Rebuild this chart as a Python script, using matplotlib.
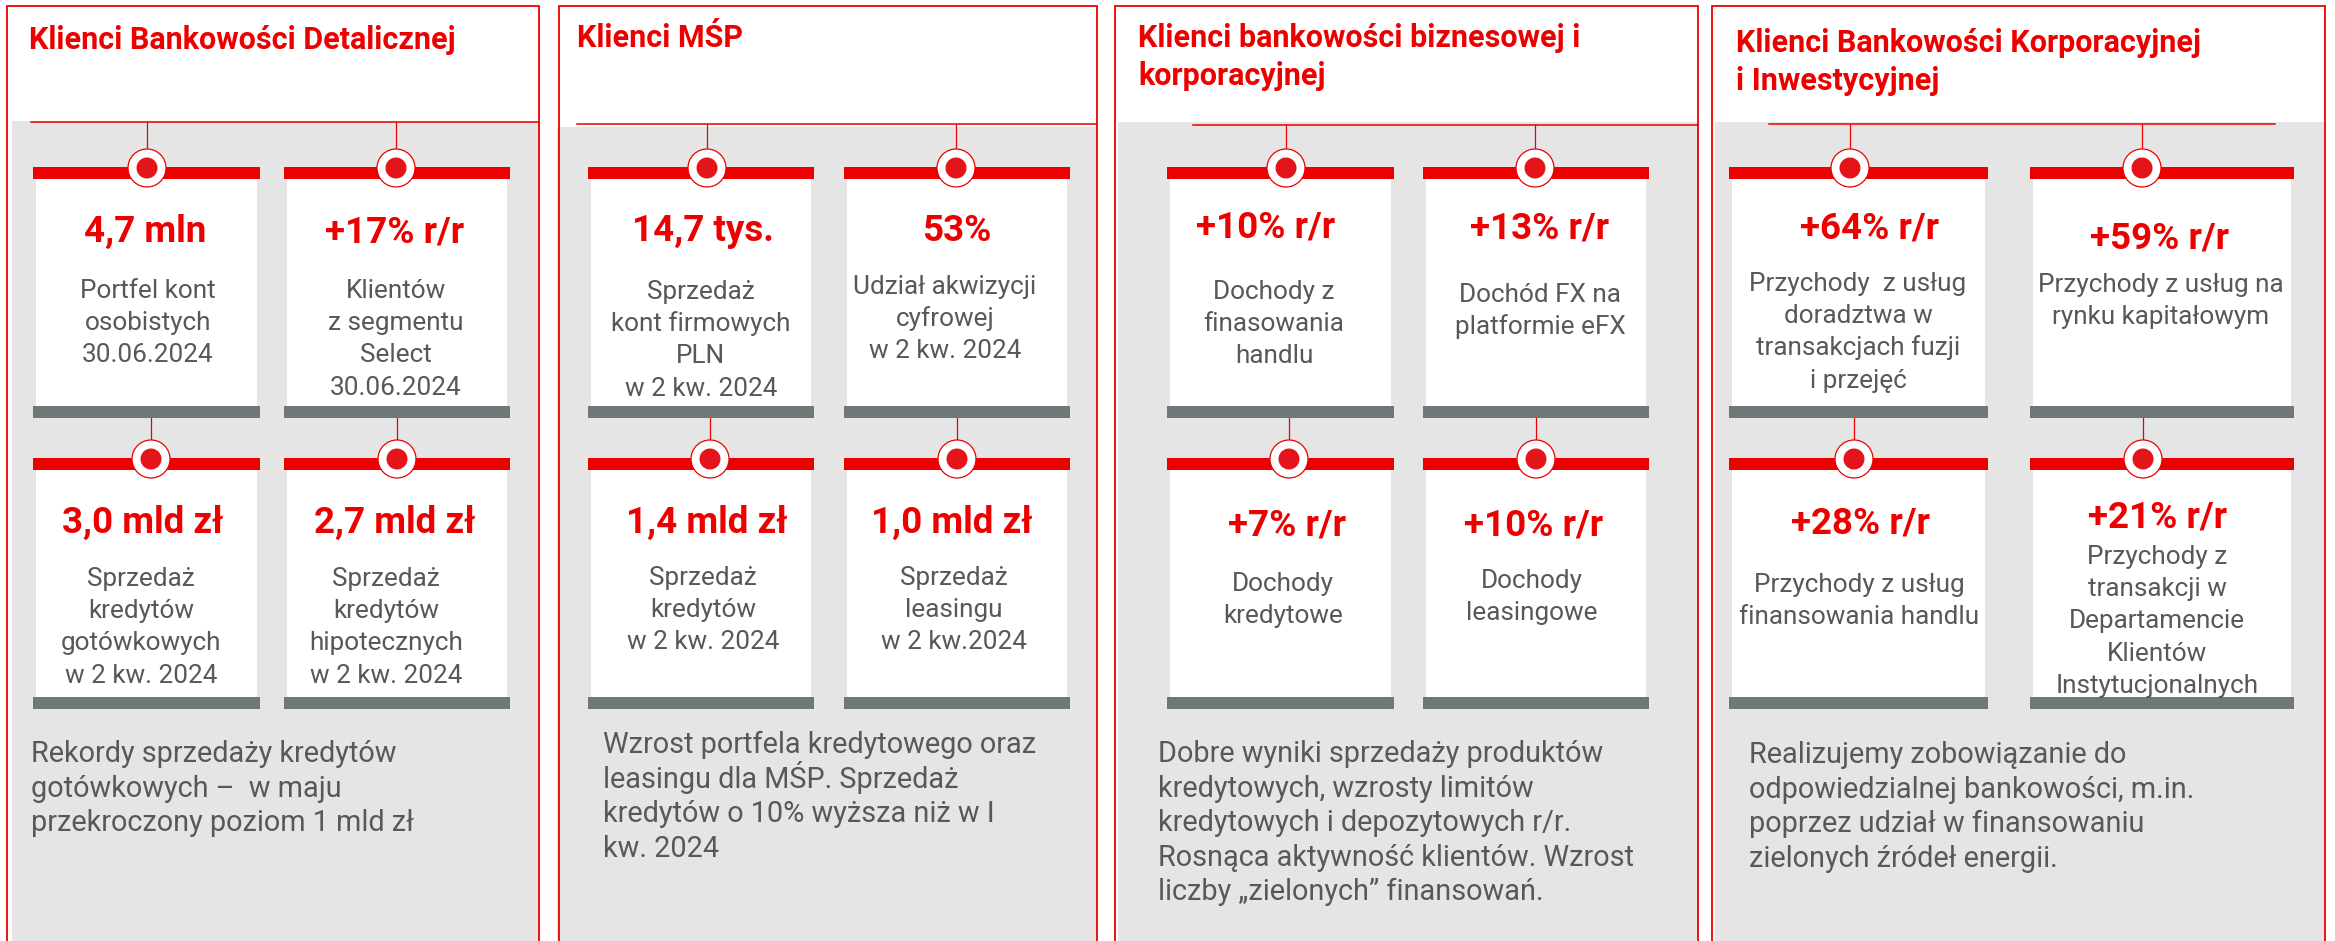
import matplotlib
matplotlib.use("Agg")
import matplotlib.pyplot as plt
from matplotlib.patches import Rectangle, Circle

plt.rcParams["font.family"] = ["Roboto", "DejaVu Sans"]

# ---- content -------------------------------------------------------------
titles = [
    ["Klienci Bankowości Detalicznej"],
    ["Klienci MŚP"],
    ["Klienci bankowości biznesowej i", "korporacyjnej"],
    ["Klienci Bankowości Korporacyjnej", "i Inwestycyjnej"],
]

# order in each panel: top-left, top-right, bottom-left, bottom-right
values = [
    ["4,7 mln", "+17% r/r", "3,0 mld zł", "2,7 mld zł"],
    ["14,7 tys.", "53%", "1,4 mld zł", "1,0 mld zł"],
    ["+10% r/r", "+13% r/r", "+7% r/r", "+10% r/r"],
    ["+64% r/r", "+59% r/r", "+28% r/r", "+21% r/r"],
]

descriptions = [
    [
        ["Portfel kont", "osobistych", "30.06.2024"],
        ["Klientów", "z segmentu", "Select", "30.06.2024"],
        ["Sprzedaż", "kredytów", "gotówkowych", "w 2 kw. 2024"],
        ["Sprzedaż", "kredytów", "hipotecznych", "w 2 kw. 2024"],
    ],
    [
        ["Sprzedaż", "kont firmowych", "PLN", "w 2 kw. 2024"],
        ["Udział akwizycji", "cyfrowej", "w 2 kw. 2024"],
        ["Sprzedaż", "kredytów", "w 2 kw. 2024"],
        ["Sprzedaż", "leasingu", "w 2 kw.2024"],
    ],
    [
        ["Dochody z", "finasowania", "handlu"],
        ["Dochód FX na", "platformie eFX"],
        ["Dochody", "kredytowe"],
        ["Dochody", "leasingowe"],
    ],
    [
        ["Przychody  z usług", "doradztwa w", "transakcjach fuzji", "i przejęć"],
        ["Przychody z usług na", "rynku kapitałowym"],
        ["Przychody z usług", "finansowania handlu"],
        ["Przychody z", "transakcji w", "Departamencie", "Klientów", "Instytucjonalnych"],
    ],
]

notes = [
    ["Rekordy sprzedaży kredytów", "gotówkowych –  w maju", "przekroczony poziom 1 mld zł"],
    ["Wzrost portfela kredytowego oraz", "leasingu dla MŚP. Sprzedaż",
     "kredytów o 10% wyższa niż w I", "kw. 2024"],
    ["Dobre wyniki sprzedaży produktów", "kredytowych, wzrosty limitów",
     "kredytowych i depozytowych r/r.", "Rosnąca aktywność klientów. Wzrost",
     "liczby „zielonych” finansowań."],
    ["Realizujemy zobowiązanie do", "odpowiedzialnej bankowości, m.in.",
     "poprzez udział w finansowaniu", "zielonych źródeł energii."],
]

# ---- layout (pixels of the 2335x941 canvas) --------------------------------
W, H = 2335, 941
RED = "#EC0000"
DOT = "#E3151B"
BAR_GRAY = "#6F7779"
BG_GRAY = "#E5E5E5"
TXT = "#58585A"

panels = [
    dict(x0=7, x1=539, gx0=12, gy0=121, lx0=31, lx1=539, ly=122,
         cards=[(33, 260), (284, 510)], tx=29, ty=[49], nx=31, ny=762,
         pin=[147, 396, 151, 397], vx=[145, 395, 143, 395],
         vy=[242, 242, 533, 533], dx=[148, 396, 141, 386],
         dy=[298, 298, 586, 586]),
    dict(x0=559, x1=1097, gx0=557, gy0=127, lx0=577, lx1=1097, ly=124,
         cards=[(588, 814), (844, 1070)], tx=577, ty=[47], nx=603, ny=753,
         pin=[707, 956, 710, 957], vx=[703, 957, 707, 952],
         vy=[241, 241, 533, 533], dx=[701, 945, 703, 954],
         dy=[299, 294, 585, 585]),
    dict(x0=1115, x1=1698, gx0=1118, gy0=122, lx0=1193, lx1=1698, ly=125,
         cards=[(1167, 1394), (1423, 1649)], tx=1138, ty=[47, 85], nx=1158, ny=762,
         pin=[1286, 1535, 1289, 1536], vx=[1266, 1540, 1287, 1534],
         vy=[237, 238, 535, 535], dx=[1274, 1540, 1283, 1532],
         dy=[299, 302, 591, 588]),
    dict(x0=1712, x1=2325, gx0=1715, gy0=122, lx0=1769, lx1=2275, ly=124,
         cards=[(1729, 1988), (2030, 2294)], tx=1736, ty=[52, 90], nx=1749, ny=763,
         pin=[1850, 2142, 1854, 2143], vx=[1870, 2160, 1860, 2157],
         vy=[238, 248, 533, 527], dx=[1858, 2161, 1859, 2157],
         dy=[291, 292, 592, 564]),
]

ROW_RED_TOP = [167, 458]
ROW_GRAY_TOP = [406, 697]
BAR_H = 12
PIN_R = 19
DOT_R = 10.5
DESC_STEP = 32.2
NOTE_STEP = 34.6

fig = plt.figure(figsize=(W / 100, H / 100), dpi=100)
fig.patch.set_facecolor("white")
ax = fig.add_axes([0, 0, 1, 1])
ax.set_xlim(0, W)
ax.set_ylim(H, 0)
ax.axis("off")

for p, title, vals, descs, note in zip(panels, titles, values, descriptions, notes):
    # gray body + thin red frame open at the bottom
    ax.add_patch(Rectangle((p["gx0"], p["gy0"]), p["x1"] - p["gx0"], H - p["gy0"] + 5,
                           facecolor=BG_GRAY, edgecolor="none", zorder=1))
    ax.plot([p["x0"], p["x0"], p["x1"], p["x1"]], [H + 5, 6, 6, H + 5],
            color=RED, lw=1.3, zorder=2, solid_joinstyle="miter")
    ax.plot([p["lx0"], p["lx1"]], [p["ly"], p["ly"]], color=RED, lw=1.1, zorder=2)

    for line, y in zip(title, p["ty"]):
        ax.text(p["tx"], y, line, color=RED, fontsize=22, fontweight="bold",
                ha="left", va="baseline", zorder=5)

    for k in range(4):
        row, col = divmod(k, 2)
        cx0, cx1 = p["cards"][col]
        top = ROW_RED_TOP[row]
        gtop = ROW_GRAY_TOP[row]
        # card body, red top bar, gray bottom bar
        ax.add_patch(Rectangle((cx0 + 3, top), cx1 - cx0 - 6, gtop - top,
                               facecolor="white", edgecolor="none", zorder=2))
        ax.add_patch(Rectangle((cx0, top), cx1 - cx0, BAR_H,
                               facecolor=RED, edgecolor="none", zorder=3))
        ax.add_patch(Rectangle((cx0, gtop), cx1 - cx0, BAR_H,
                               facecolor=BAR_GRAY, edgecolor="none", zorder=3))
        # hanger line and pin
        px = p["pin"][k]
        py = top + 1
        y_from = p["ly"] if row == 0 else ROW_GRAY_TOP[0] + BAR_H
        ax.plot([px, px], [y_from, py - PIN_R], color=RED, lw=0.9, zorder=2)
        ax.add_patch(Circle((px, py), PIN_R, facecolor="white", edgecolor=RED,
                            lw=0.9, zorder=4))
        ax.add_patch(Circle((px, py), DOT_R, facecolor=DOT, edgecolor="none", zorder=5))
        # value and description
        ax.text(p["vx"][k], p["vy"][k], vals[k], color=RED, fontsize=26.5,
                fontweight="bold", ha="center", va="baseline", zorder=5)
        for i, line in enumerate(descs[k]):
            ax.text(p["dx"][k], p["dy"][k] + i * DESC_STEP, line, color=TXT,
                    fontsize=18.8, ha="center", va="baseline", zorder=5)

    for i, line in enumerate(note):
        ax.text(p["nx"], p["ny"] + i * NOTE_STEP, line, color=TXT, fontsize=20.8,
                ha="left", va="baseline", zorder=5)

fig.savefig("out.png", dpi=100, facecolor=fig.get_facecolor())
